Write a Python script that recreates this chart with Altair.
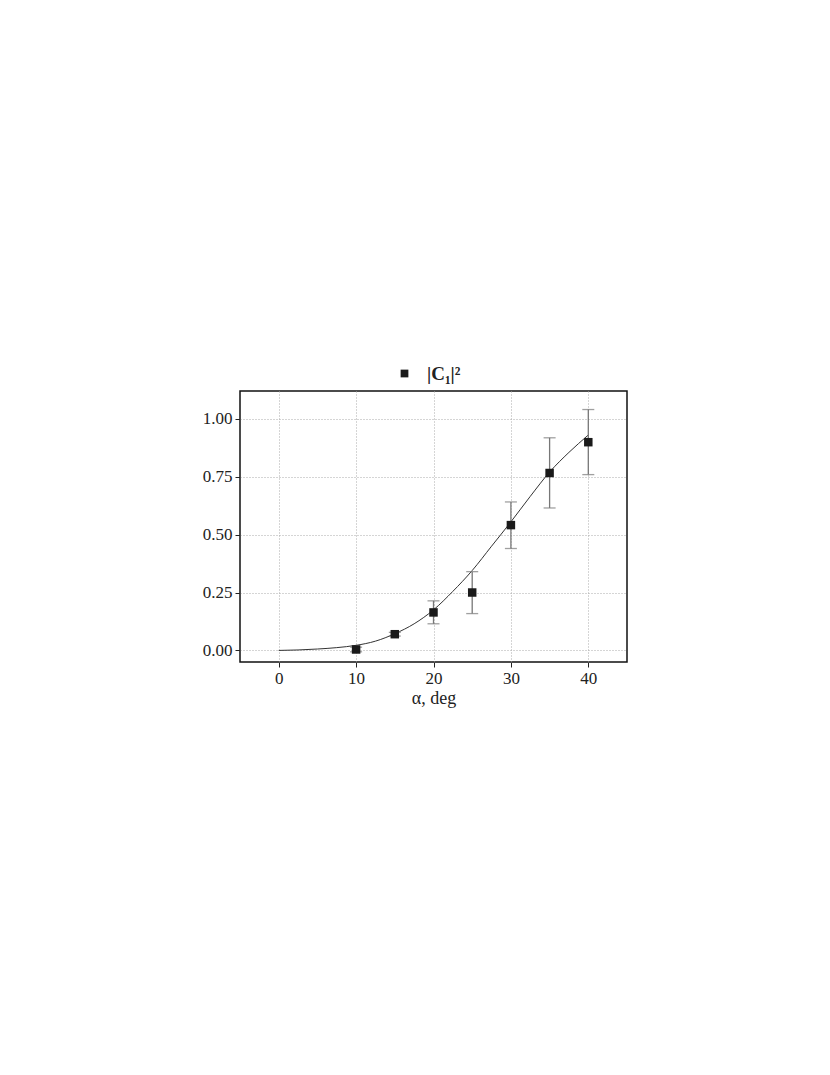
import altair as alt
import pandas as pd

# measured points
alpha = [10, 15, 20, 25, 30, 35, 40]
c1sq = [0.004, 0.070, 0.164, 0.250, 0.541, 0.766, 0.899]
err_lo = [-0.006, 0.062, 0.115, 0.159, 0.440, 0.615, 0.759]
err_hi = [0.014, 0.078, 0.214, 0.340, 0.641, 0.918, 1.040]

# fitted curve
fit_x = [0, 2.5, 5, 7.5, 10, 12.5, 15, 17.5, 20, 22.5, 25, 27.5, 30, 32.5, 35, 37.5, 40]
fit_y = [0.0, 0.002, 0.006, 0.012, 0.022, 0.040, 0.072, 0.115, 0.175, 0.255,
         0.345, 0.450, 0.555, 0.665, 0.770, 0.855, 0.930]

label = "|C₁|²"
pts = pd.DataFrame({"a": alpha, "v": c1sq, "lo": err_lo, "hi": err_hi, "s": [label] * len(alpha)})
fit = pd.DataFrame({"a": fit_x, "v": fit_y})

FONT = "Liberation Serif"
xs = alt.Scale(domain=[-5, 45], nice=False, zero=False)
ys = alt.Scale(domain=[-0.05, 1.12], nice=False, zero=False)

xax = alt.Axis(values=[0, 10, 20, 30, 40], title="α, deg", format="d",
               grid=True, gridDash=[1, 2], gridColor="#aaa", gridWidth=1,
               domain=False, tickColor="#222", tickSize=5,
               labelFont=FONT, labelFontSize=17, labelColor="#222", labelPadding=3,
               titleFont=FONT, titleFontSize=18, titleFontWeight="normal",
               titleColor="#222", titlePadding=3)
yax = alt.Axis(values=[0, 0.25, 0.5, 0.75, 1.0], title=None, format=".2f",
               grid=True, gridDash=[1, 2], gridColor="#aaa", gridWidth=1,
               domain=False, tickColor="#222", tickSize=5,
               labelFont=FONT, labelFontSize=17, labelColor="#222", labelPadding=3)

line = alt.Chart(fit).mark_line(color="#333", strokeWidth=1, interpolate="monotone").encode(
    x=alt.X("a:Q", scale=xs, axis=xax),
    y=alt.Y("v:Q", scale=ys, axis=yax),
)

bars = alt.Chart(pts).mark_rule(color="#777", strokeWidth=1.3).encode(
    x=alt.X("a:Q", scale=xs), y=alt.Y("lo:Q", scale=ys), y2="hi:Q")
cap_lo = alt.Chart(pts).mark_tick(color="#777", thickness=1.3, size=12, orient="horizontal").encode(
    x=alt.X("a:Q", scale=xs), y=alt.Y("lo:Q", scale=ys))
cap_hi = alt.Chart(pts).mark_tick(color="#777", thickness=1.3, size=12, orient="horizontal").encode(
    x=alt.X("a:Q", scale=xs), y=alt.Y("hi:Q", scale=ys))

squares = alt.Chart(pts).mark_square(size=72, opacity=1).encode(
    x=alt.X("a:Q", scale=xs),
    y=alt.Y("v:Q", scale=ys),
    color=alt.Color("s:N", scale=alt.Scale(range=["#1a1a1a"]),
                    legend=alt.Legend(title=None, orient="none", legendX=155, legendY=-27,
                                      symbolType="square", symbolSize=60,
                                      symbolStrokeWidth=0, labelFont=FONT,
                                      labelFontSize=19, labelFontWeight="bold",
                                      labelColor="#222", labelOffset=13)),
)

chart = alt.layer(line, bars, cap_lo, cap_hi, squares).properties(
    width=387, height=271,
    padding={"left": 232, "top": 383, "right": 195, "bottom": 390},
    autosize=alt.AutoSizeParams(type="none"),
    background="white",
).configure_view(stroke="#111", strokeWidth=1.5)

chart.save("out.html", embed_options={"renderer": "svg", "actions": False})
